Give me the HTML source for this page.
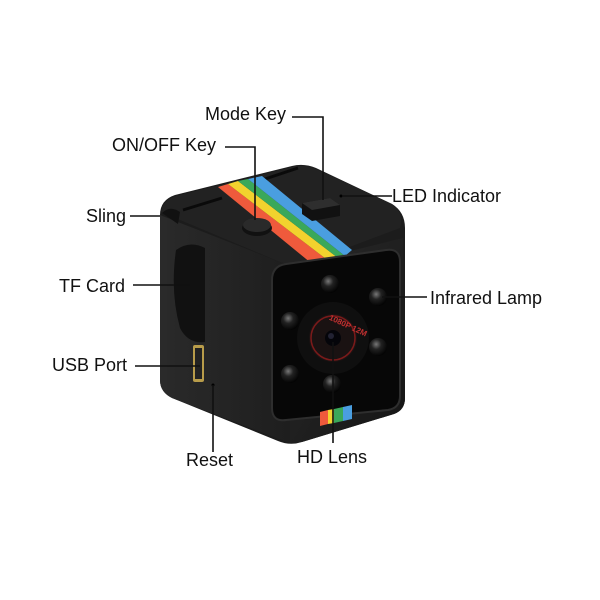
<!DOCTYPE html>
<html><head><meta charset="utf-8"><style>
html,body{margin:0;padding:0;background:#fff;width:600px;height:600px;overflow:hidden}
svg{display:block}
text{font-family:"Liberation Sans",sans-serif;font-size:18px;fill:#111}
</style></head><body>
<svg width="600" height="600" viewBox="0 0 600 600">
<defs>
<radialGradient id="led" cx="0.4" cy="0.35" r="0.7"><stop offset="0" stop-color="#777"/><stop offset="0.4" stop-color="#222"/><stop offset="1" stop-color="#000"/></radialGradient>
<linearGradient id="front" x1="0" y1="0" x2="1" y2="1"><stop offset="0" stop-color="#2a2a2a"/><stop offset="1" stop-color="#151515"/></linearGradient>
<linearGradient id="left" x1="0" y1="0" x2="1" y2="0"><stop offset="0" stop-color="#2a2a2a"/><stop offset="1" stop-color="#1e1e1e"/></linearGradient>
</defs>
<!-- body silhouette -->
<path d="M160,215 Q160,200 175,195 L292,166 Q304,163 316,168 L392,204 Q405,212 405,228 L405,398 Q405,410 394,414 L302,442 Q290,446 278,441 L172,398 Q160,392 160,380 Z" fill="#1c1c1c"/>
<!-- left face -->
<path d="M160,215 L290,266 L290,443 L172,398 Q160,392 160,380 Z" fill="url(#left)"/>
<!-- front face -->
<path d="M290,266 L403,238 L405,398 Q405,410 394,414 L302,442 L290,443 Z" fill="url(#front)"/>
<!-- top face -->
<path d="M161,212 Q162,201 176,196 L292,167 Q304,164 316,169 L392,204 Q404,212 400,228 L310,262 Q296,268 280,262 Z" fill="#222"/>
<!-- sling hole -->
<path d="M176,250 Q190,240 205,248 L205,342 Q188,344 180,328 Q170,292 176,250 Z" fill="#111"/>
<path d="M162,213 Q170,205 180,212 L178,224 Z" fill="#111"/>
<!-- slots on top -->
<path d="M183,210 L222,198" stroke="#0a0a0a" stroke-width="3"/>
<path d="M262,180 L298,168" stroke="#0a0a0a" stroke-width="3"/>
<!-- rainbow stripe -->
<polygon points="218,187 228,184 330,262 322,272" fill="#ef5a3c"/>
<polygon points="228,184 238,181 338,258 330,262" fill="#f2d22e"/>
<polygon points="238,181 248,179 345,256 338,258" fill="#3aa85a"/>
<polygon points="248,179 262,176 352,250 345,256" fill="#4a9ee0"/>
<!-- lens panel -->
<path d="M272,280 Q272,266 286,264 L386,250 Q400,248 400,262 L400,396 Q400,408 388,410 L286,420 Q272,422 272,408 Z" fill="#070707" stroke="#2e2e2e" stroke-width="2"/>
<!-- bottom stripe -->
<polygon points="320,412 328,410 328,424 320,426" fill="#ef5a3c"/>
<polygon points="328,410 334,409 334,423 328,424" fill="#f2d22e"/>
<polygon points="334,409 343,407 343,421 334,423" fill="#3aa85a"/>
<polygon points="343,407 352,405 352,419 343,421" fill="#4a9ee0"/>
<!-- LEDs -->
<circle cx="330" cy="284" r="9" fill="url(#led)"/>
<circle cx="378" cy="297" r="9" fill="url(#led)"/>
<circle cx="290" cy="321" r="9" fill="url(#led)"/>
<circle cx="378" cy="347" r="9" fill="url(#led)"/>
<circle cx="290" cy="374" r="9" fill="url(#led)"/>
<circle cx="332" cy="384" r="9" fill="url(#led)"/>
<!-- lens -->
<circle cx="333" cy="338" r="36" fill="#0f0f0f"/>
<circle cx="333" cy="338" r="24" fill="#1a1212"/>
<circle cx="333" cy="338" r="22" fill="none" stroke="#7a1a1a" stroke-width="1.5"/>
<text x="321" y="323" style="font-size:8px;fill:#c03030;font-weight:bold" transform="rotate(25 333 338)">1080P 12M</text>
<circle cx="333" cy="338" r="8" fill="#05050a"/>
<circle cx="331" cy="336" r="3" fill="#223"/>
<!-- buttons -->
<ellipse cx="257" cy="228" rx="15" ry="8" fill="#111"/>
<ellipse cx="257" cy="225" rx="14" ry="7" fill="#2a2a2a"/>
<polygon points="302,203 330,198 340,205 340,216 312,221 302,214" fill="#111"/>
<polygon points="302,203 330,198 340,205 312,210" fill="#2e2e2e"/>
<!-- usb port -->
<rect x="193" y="345" width="11" height="37" rx="2" fill="#b89c4a"/>
<rect x="195" y="348" width="7" height="31" fill="#222"/>
<circle cx="213" cy="385" r="1.5" fill="#000"/>
<circle cx="341" cy="196" r="1.5" fill="#000"/>
<!-- leader lines -->
<g stroke="#111" stroke-width="1.6" fill="none">
<polyline points="292,117 323,117 323,200"/>
<polyline points="225,147 255,147 255,220"/>
<line x1="130" y1="216" x2="160" y2="216"/>
<line x1="342" y1="196" x2="392" y2="196"/>
<line x1="133" y1="285" x2="190" y2="285"/>
<line x1="382" y1="297" x2="427" y2="297"/>
<line x1="135" y1="366" x2="200" y2="366"/>
<line x1="213" y1="385" x2="213" y2="452"/>
<line x1="333" y1="342" x2="333" y2="443"/>
</g>
<!-- labels -->
<text x="205" y="120">Mode Key</text>
<text x="112" y="151">ON/OFF Key</text>
<text x="86" y="222">Sling</text>
<text x="392" y="202">LED Indicator</text>
<text x="59" y="292">TF Card</text>
<text x="430" y="304">Infrared Lamp</text>
<text x="52" y="371">USB Port</text>
<text x="186" y="466">Reset</text>
<text x="297" y="463">HD Lens</text>
</svg>
</body></html>
